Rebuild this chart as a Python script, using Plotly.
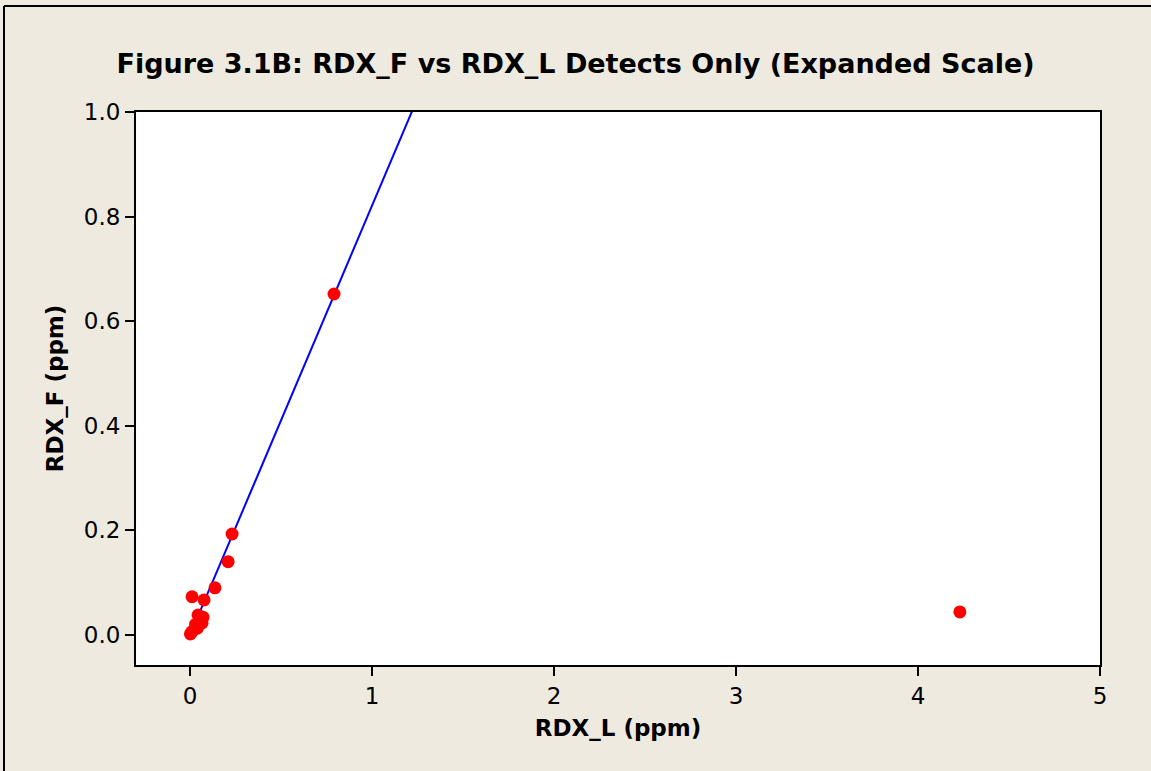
import plotly.graph_objects as go

# Data (ppm)
rdx_l = [0.791, 0.231, 0.209, 0.137, 0.077, 0.011, 0.044, 0.071, 0.066, 0.040, 0.010, 0.002, 0.030, 4.230]
rdx_f = [0.652, 0.193, 0.140, 0.090, 0.067, 0.073, 0.038, 0.034, 0.023, 0.013, 0.006, 0.002, 0.020, 0.044]

line_x = [0.0, 4.23]
line_slope = 0.821
line_y = [line_slope * v for v in line_x]

x_ticks = [0, 1, 2, 3, 4, 5]
y_ticks = [0.0, 0.2, 0.4, 0.6, 0.8, 1.0]

BG = "#EEEAE0"
FONT = "DejaVu Sans"

fig = go.Figure()
fig.add_trace(go.Scatter(x=line_x, y=line_y, mode="lines",
                         line=dict(color="#0000FF", width=2), showlegend=False,
                         hoverinfo="skip"))
fig.add_trace(go.Scatter(x=rdx_l, y=rdx_f, mode="markers",
                         marker=dict(color="#FF0000", size=13), showlegend=False,
                         cliponaxis=False))

W, H = 1151, 771
L, R, T, B = 136, 51, 112, 106
pw, ph = W - L - R, H - T - B

def px_to_paper_x(px):
    return (px - L) / pw

def px_to_paper_y(py):
    return (H - B - py) / ph

fig.update_layout(
    width=W, height=H,
    margin=dict(l=L, r=R, t=T, b=B),
    paper_bgcolor=BG, plot_bgcolor="white",
    font=dict(family=FONT, color="black"),
    title=dict(text="<b>Figure 3.1B: RDX_F vs RDX_L Detects Only (Expanded Scale)</b>",
               x=0.5, xanchor="center", y=1 - 64 / H, yanchor="middle",
               font=dict(size=27, family=FONT, color="black")),
    xaxis=dict(range=[-0.297, 5.0], tickvals=x_ticks, ticktext=[str(v) for v in x_ticks],
               showgrid=False, zeroline=False, showline=True, linecolor="black", linewidth=2,
               mirror=True, ticks="outside", ticklen=9, tickwidth=2, tickcolor="black",
               tickfont=dict(size=23, family=FONT),
               title=dict(text="<b>RDX_L (ppm)</b>", font=dict(size=23, family=FONT), standoff=12)),
    yaxis=dict(range=[-0.0575, 1.0], tickvals=y_ticks, ticktext=[f"{v:.1f}" for v in y_ticks],
               showgrid=False, zeroline=False, showline=True, linecolor="black", linewidth=2,
               mirror=True, ticks="outside", ticklen=9, tickwidth=2, tickcolor="black",
               tickfont=dict(size=23, family=FONT),
               title=dict(text="<b>RDX_F (ppm)</b>", font=dict(size=23, family=FONT), standoff=14)),
)

# outer frame (top and left edges visible)
fig.add_shape(type="line", xref="paper", yref="paper",
              x0=px_to_paper_x(4), x1=px_to_paper_x(W + 5),
              y0=px_to_paper_y(6), y1=px_to_paper_y(6),
              line=dict(color="black", width=2))
fig.add_shape(type="line", xref="paper", yref="paper",
              x0=px_to_paper_x(4), x1=px_to_paper_x(4),
              y0=px_to_paper_y(6), y1=px_to_paper_y(H + 5),
              line=dict(color="black", width=2))

fig.write_html("out.html",
               config={"displayModeBar": False},
               post_script="document.body.style.margin='0';document.body.style.overflow='hidden';")
